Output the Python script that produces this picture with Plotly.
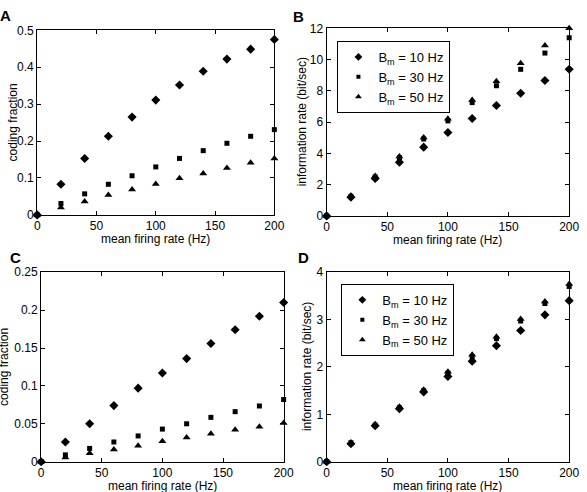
import plotly.graph_objects as go

# ---------------- data ----------------
rates = [0, 20, 40, 60, 80, 100, 120, 140, 160, 180, 200]
labels = ["B<sub>m</sub> = 10 Hz", "B<sub>m</sub> = 30 Hz", "B<sub>m</sub> = 50 Hz"]

A_b10 = [0, 0.083, 0.153, 0.213, 0.265, 0.311, 0.352, 0.389, 0.422, 0.449, 0.475]
A_b30 = [0, 0.031, 0.057, 0.083, 0.106, 0.130, 0.153, 0.174, 0.194, 0.213, 0.231]
A_b50 = [0, 0.020, 0.036, 0.054, 0.069, 0.084, 0.099, 0.112, 0.127, 0.141, 0.153]

B_b10 = [0, 1.20, 2.39, 3.43, 4.40, 5.34, 6.23, 7.06, 7.85, 8.66, 9.38]
B_b30 = [0, 1.25, 2.49, 3.72, 4.92, 6.08, 7.25, 8.33, 9.38, 10.42, 11.4]
B_b50 = [0, 1.29, 2.55, 3.80, 5.02, 6.21, 7.41, 8.62, 9.76, 10.9, 12.0]

C_b10 = [0, 0.026, 0.050, 0.074, 0.097, 0.117, 0.136, 0.156, 0.174, 0.192, 0.210]
C_b30 = [0, 0.009, 0.0175, 0.026, 0.034, 0.043, 0.050, 0.0585, 0.066, 0.0735, 0.082]
C_b50 = [0, 0.0055, 0.011, 0.016, 0.021, 0.027, 0.032, 0.037, 0.042, 0.046, 0.051]

D_b10 = [0, 0.38, 0.76, 1.12, 1.47, 1.80, 2.12, 2.45, 2.77, 3.10, 3.40]
D_b30 = [0, 0.40, 0.77, 1.14, 1.50, 1.87, 2.22, 2.60, 2.97, 3.34, 3.70]
D_b50 = [0, 0.40, 0.79, 1.16, 1.52, 1.90, 2.26, 2.64, 3.01, 3.38, 3.75]

# ---------------- layout helpers ----------------
W, H = 587, 492
FONT = "Liberation Sans, Arial, Helvetica, sans-serif"

def fx(p):
    return p / W

def fy(p):
    return 1 - p / H

symbols = ["diamond", "square", "triangle-up"]
sizes = [7, 5, 7]
legend_sizes = [6, 4, 6]

panels = [
    ("A", [A_b10, A_b30, A_b50], (35, 277.5), (24, 214), [0, 0.5], 0.1, None),
    ("B", [B_b10, B_b30, B_b50], (331, 579), (22, 215), [0, 12], 2, "legend"),
    ("C", [C_b10, C_b30, C_b50], (39, 287), (273, 468), [0, 0.25], 0.05, None),
    ("D", [D_b10, D_b30, D_b50], (331, 579), (273, 468), [0, 4], 1, "legend2"),
]

fig = go.Figure()
layout = {}
axis_common = dict(
    showline=True, linecolor="black", linewidth=1.2, mirror="ticks",
    ticks="inside", ticklen=4, tickwidth=1, tickcolor="black",
    showgrid=False, zeroline=False,
    tickfont=dict(family=FONT, size=12, color="black"),
)

for i, (name, series, (x0, x1), (yt, yb), yr, dt, leg) in enumerate(panels):
    k = "" if i == 0 else str(i + 1)
    xa, ya = "x" + k, "y" + k
    layout["xaxis" + k] = dict(axis_common, domain=[fx(x0), fx(x1)], range=[0, 200],
                               dtick=50, tick0=0, anchor=ya)
    layout["yaxis" + k] = dict(axis_common, domain=[fy(yb), fy(yt)], range=yr,
                               dtick=dt, tick0=0, anchor=xa)
    for j, ys in enumerate(series):
        fig.add_trace(go.Scatter(
            x=rates, y=ys, mode="markers", xaxis=xa, yaxis=ya,
            name=labels[j], cliponaxis=False, showlegend=False,
            marker=dict(symbol=symbols[j], size=sizes[j], color="black")))
    if leg is not None:
        for j in range(3):
            fig.add_trace(go.Scatter(
                x=[None], y=[None], mode="markers", xaxis=xa, yaxis=ya,
                name=labels[j], legend=leg, showlegend=True,
                marker=dict(symbol=symbols[j], size=legend_sizes[j], color="black")))

legend_common = dict(
    bgcolor="white", bordercolor="black", borderwidth=1,
    font=dict(family=FONT, size=13, color="black"),
    xanchor="left", yanchor="top", tracegroupgap=0, itemwidth=30,
)
layout["legend"] = dict(legend_common, x=fx(342), y=fy(35))
layout["legend2"] = dict(legend_common, x=fx(346), y=fy(285))

annotations = []
for txt, px, py in [("A", 3, 9), ("B", 302, 10), ("C", 13, 258), ("D", 307, 258)]:
    annotations.append(dict(text="<b>%s</b>" % txt, x=fx(px), y=fy(py), xref="paper", yref="paper",
                            xanchor="center", yanchor="middle", showarrow=False,
                            font=dict(family=FONT, size=15, color="black")))
for cx, cy in [(156, 238.5), (455, 239.5), (163, 493), (455, 493)]:
    annotations.append(dict(text="mean firing rate (Hz)", x=fx(cx), y=fy(cy), xref="paper", yref="paper",
                            xanchor="center", yanchor="middle", showarrow=False,
                            font=dict(family=FONT, size=12, color="black")))
for txt, cx, cy in [("coding fraction", 10, 119), ("information rate (bit/sec)", 306, 118.5),
                    ("coding fraction", 1, 370.5), ("information rate (bit/sec)", 311, 370.5)]:
    annotations.append(dict(text=txt, x=fx(cx), y=fy(cy), xref="paper", yref="paper",
                            xanchor="center", yanchor="middle", showarrow=False, textangle=-90,
                            font=dict(family=FONT, size=12, color="black")))

layout["annotations"] = annotations
fig.update_layout(
    width=W, height=H, margin=dict(l=0, r=0, t=0, b=0),
    paper_bgcolor="white", plot_bgcolor="white",
    font=dict(family=FONT, size=12, color="black"),
    **layout,
)

fig.write_html("out.html")
